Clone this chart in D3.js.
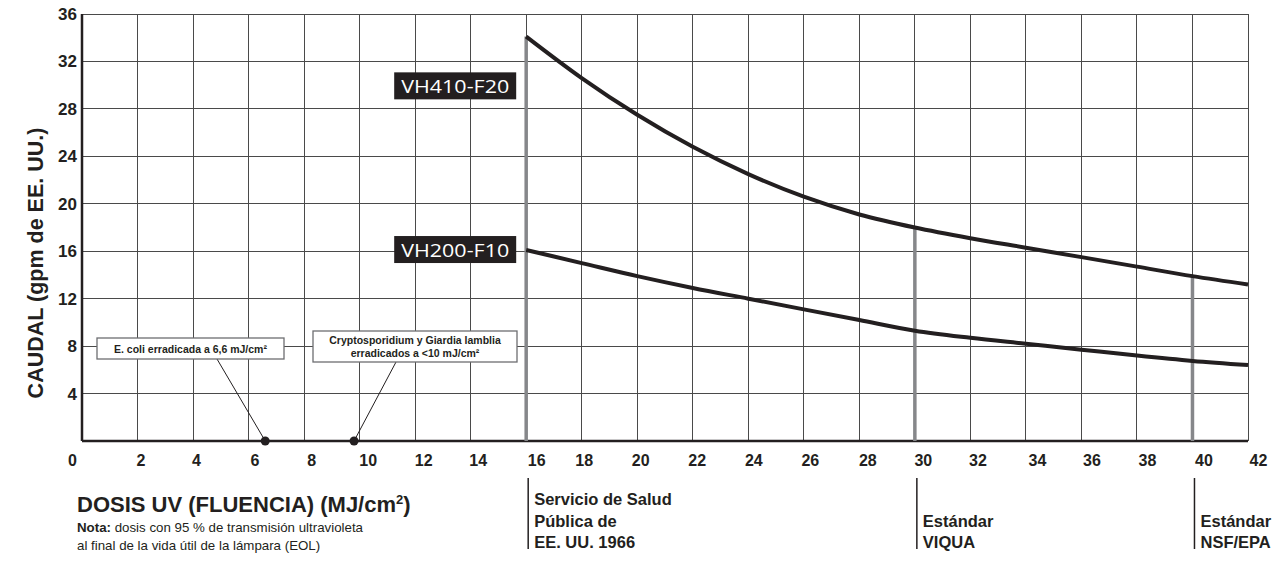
<!DOCTYPE html>
<html>
<head>
    <meta charset="utf-8">
    <title>Caudal vs dosis UV</title>
    <script src="https://d3js.org/d3.v7.min.js"></script>
    <style type="text/css">
        body{ margin:0; background:#fff; }
        svg text{ font-family: "Liberation Sans", Arial, sans-serif; fill:#231f20; }
        .axis path, .axis line{ display:none; }
        .axis text{ font-weight:bold; }
        .grid line{ stroke:#4a4a4a; stroke-width:1; shape-rendering:crispEdges; }
    </style>
</head>
<body>
<script>
    var w = 1284;
    var h = 562;

    // ejes
    var xTicks = [0,2,4,6,8,10,12,14,16,18,20,22,24,26,28,30,32,34,36,38,40,42];
    var yTicks = [4,8,12,16,20,24,28,32,36];

    // curvas (dosis UV -> caudal gpm)
    var dose = [16,18,20,22,24,26,28,30,32,34,36,38,40,42];
    var flowF20 = [34.1,30.6,27.5,24.8,22.5,20.6,19.1,18.0,17.1,16.3,15.5,14.7,13.9,13.2];
    var flowF10 = [16.1,15.0,13.9,12.9,12.0,11.1,10.2,9.3,8.7,8.2,7.7,7.2,6.75,6.4];
    var seriesNames = ["VH410-F20","VH200-F10"];

    // normas de dosis
    var standardDose = [16,30,40];
    var standardText = [["Servicio de Salud","Pública de","EE. UU. 1966"],["Estándar","VIQUA"],["Estándar","NSF/EPA"]];

    // organismos
    var germDose = [6.6, 9.8];
    var germText = [["E. coli erradicada a 6,6 mJ/cm²"],["Cryptosporidium y Giardia lamblia","erradicados a <10 mJ/cm²"]];

    var x = d3.scaleLinear().domain([0,42]).range([82,1248]);
    var y = d3.scaleLinear().domain([0,36]).range([441,14]);

    var svg = d3.select("body").append("svg")
                .attr("width",w).attr("height",h);

    // rejilla
    var grid = svg.append("g").attr("class","grid");
    grid.selectAll(".vx").data(xTicks.slice(1)).enter().append("line")
        .attr("x1",function(d){ return x(d); }).attr("x2",function(d){ return x(d); })
        .attr("y1",y(36)).attr("y2",y(0));
    grid.selectAll(".hy").data(yTicks).enter().append("line")
        .attr("x1",x(0)).attr("x2",x(42))
        .attr("y1",function(d){ return y(d); }).attr("y2",function(d){ return y(d); });

    // ejes principales
    svg.append("line").attr("x1",x(0)).attr("x2",x(0)).attr("y1",y(36)).attr("y2",y(0))
        .attr("stroke","#231f20").attr("stroke-width",2.5);
    svg.append("line").attr("x1",x(0)).attr("x2",x(42)).attr("y1",y(0)).attr("y2",y(0))
        .attr("stroke","#231f20").attr("stroke-width",2.5);

    // lineas grises de las normas
    var lookup = function(v){ return flowF20[dose.indexOf(v)]; };
    svg.selectAll(".std").data(standardDose).enter().append("line")
        .attr("x1",function(d){ return x(d); }).attr("x2",function(d){ return x(d); })
        .attr("y1",function(d){ return y(lookup(d)); }).attr("y2",y(0))
        .attr("stroke","#86878a").attr("stroke-width",3.5);

    // curvas
    var line = d3.line()
        .x(function(d){ return x(d[0]); })
        .y(function(d){ return y(d[1]); })
        .curve(d3.curveMonotoneX);
    [flowF20, flowF10].forEach(function(s){
        svg.append("path")
            .datum(dose.map(function(d,i){ return [d, s[i]]; }))
            .attr("d",line)
            .attr("fill","none").attr("stroke","#231f20").attr("stroke-width",4);
    });

    // etiquetas de serie
    [flowF20[0]-4.2, flowF10[0]].forEach(function(v,i){
        var g = svg.append("g").attr("transform","translate("+(x(16)-71)+","+y(v)+")");
        g.append("rect").attr("x",-61).attr("y",-14).attr("width",122).attr("height",27).attr("fill","#231f20");
        g.append("text").attr("text-anchor","middle").attr("dy","0.36em")
            .style("font-size","19px").style("fill","#fff").style("font-family","'Open Sans', sans-serif")
            .attr("textLength",108).attr("lengthAdjust","spacingAndGlyphs")
            .text(seriesNames[i]);
    });

    // ejes con d3 (las etiquetas del original no estan centradas en la rejilla)
    var labelShift = {0:-10,2:3,4:3,6:6,8:7,10:8,12:8,14:7,16:10,18:2,20:3,22:4,24:5,26:6,28:8,
                      30:8,32:7,34:11,36:10,38:10,40:11,42:10};
    var xAxis = d3.axisBottom(x).tickValues(xTicks).tickSize(0).tickPadding(14).tickFormat(d3.format("d"));
    var gx = svg.append("g").attr("class","axis").attr("transform","translate(0,"+y(0)+")").call(xAxis);
    gx.selectAll(".tick text").style("font-size","16px")
        .attr("dx",function(d){ return labelShift[d]; });

    var yAxis = d3.axisLeft(y).tickValues(yTicks).tickSize(0).tickPadding(5).tickFormat(d3.format("d"));
    var gy = svg.append("g").attr("class","axis").attr("transform","translate("+x(0)+",0)").call(yAxis);
    gy.selectAll(".tick text").style("font-size","17px");

    // organismos
    var boxes = [{x1:97,x2:284,y1:338,y2:359,px:217},{x1:313,x2:517,y1:331,y2:362,px:396}];
    germDose.forEach(function(d,i){
        var b = boxes[i];
        svg.append("line").attr("x1",b.px).attr("y1",b.y2).attr("x2",x(d)).attr("y2",y(0))
            .attr("stroke","#231f20").attr("stroke-width",1);
        svg.append("rect").attr("x",b.x1).attr("y",b.y1).attr("width",b.x2-b.x1).attr("height",b.y2-b.y1)
            .attr("fill","#fff").attr("stroke","#6d6e71").attr("stroke-width",1.3);
        var t = svg.append("text").attr("text-anchor","middle")
            .style("font-size","10.5px").style("font-weight","bold");
        germText[i].forEach(function(s,k){
            t.append("tspan").attr("x",(b.x1+b.x2)/2)
                .attr("y",(b.y1+b.y2)/2 + 4 + (k - (germText[i].length-1)/2)*12.5)
                .text(s);
        });
        svg.append("circle").attr("cx",x(d)).attr("cy",y(0)).attr("r",4.5).attr("fill","#231f20");
    });

    // titulo eje y
    svg.append("text").attr("transform","translate(43,263) rotate(-90)")
        .attr("text-anchor","middle").style("font-size","21.5px").style("font-weight","bold")
        .text("CAUDAL (gpm de EE. UU.)");

    // titulo eje x
    var xt = svg.append("text").attr("x",77).attr("y",512).style("font-size","22px").style("font-weight","bold");
    xt.append("tspan").text("DOSIS UV (FLUENCIA) (MJ/cm");
    xt.append("tspan").attr("dy",-8).style("font-size","13px").text("2");
    xt.append("tspan").attr("dy",8).text(")");

    var nota = svg.append("text").attr("x",77).attr("y",532).style("font-size","13.3px");
    nota.append("tspan").style("font-weight","bold").text("Nota:");
    nota.append("tspan").text(" dosis con 95 % de transmisión ultravioleta");
    svg.append("text").attr("x",77).attr("y",550).style("font-size","13.3px")
        .text("al final de la vida útil de la lámpara (EOL)");

    // normas bajo el eje
    standardDose.forEach(function(d,i){
        var lx = x(d) + 2;
        svg.append("line").attr("x1",lx).attr("x2",lx).attr("y1",478).attr("y2",549)
            .attr("stroke","#231f20").attr("stroke-width",1.5);
        var lines = standardText[i];
        lines.forEach(function(s,k){
            svg.append("text").attr("x",lx+6).attr("y",548 - (lines.length-1-k)*21.5)
                .style("font-size","16.5px").style("font-weight","bold").text(s);
        });
    });
</script>
</body>
</html>
